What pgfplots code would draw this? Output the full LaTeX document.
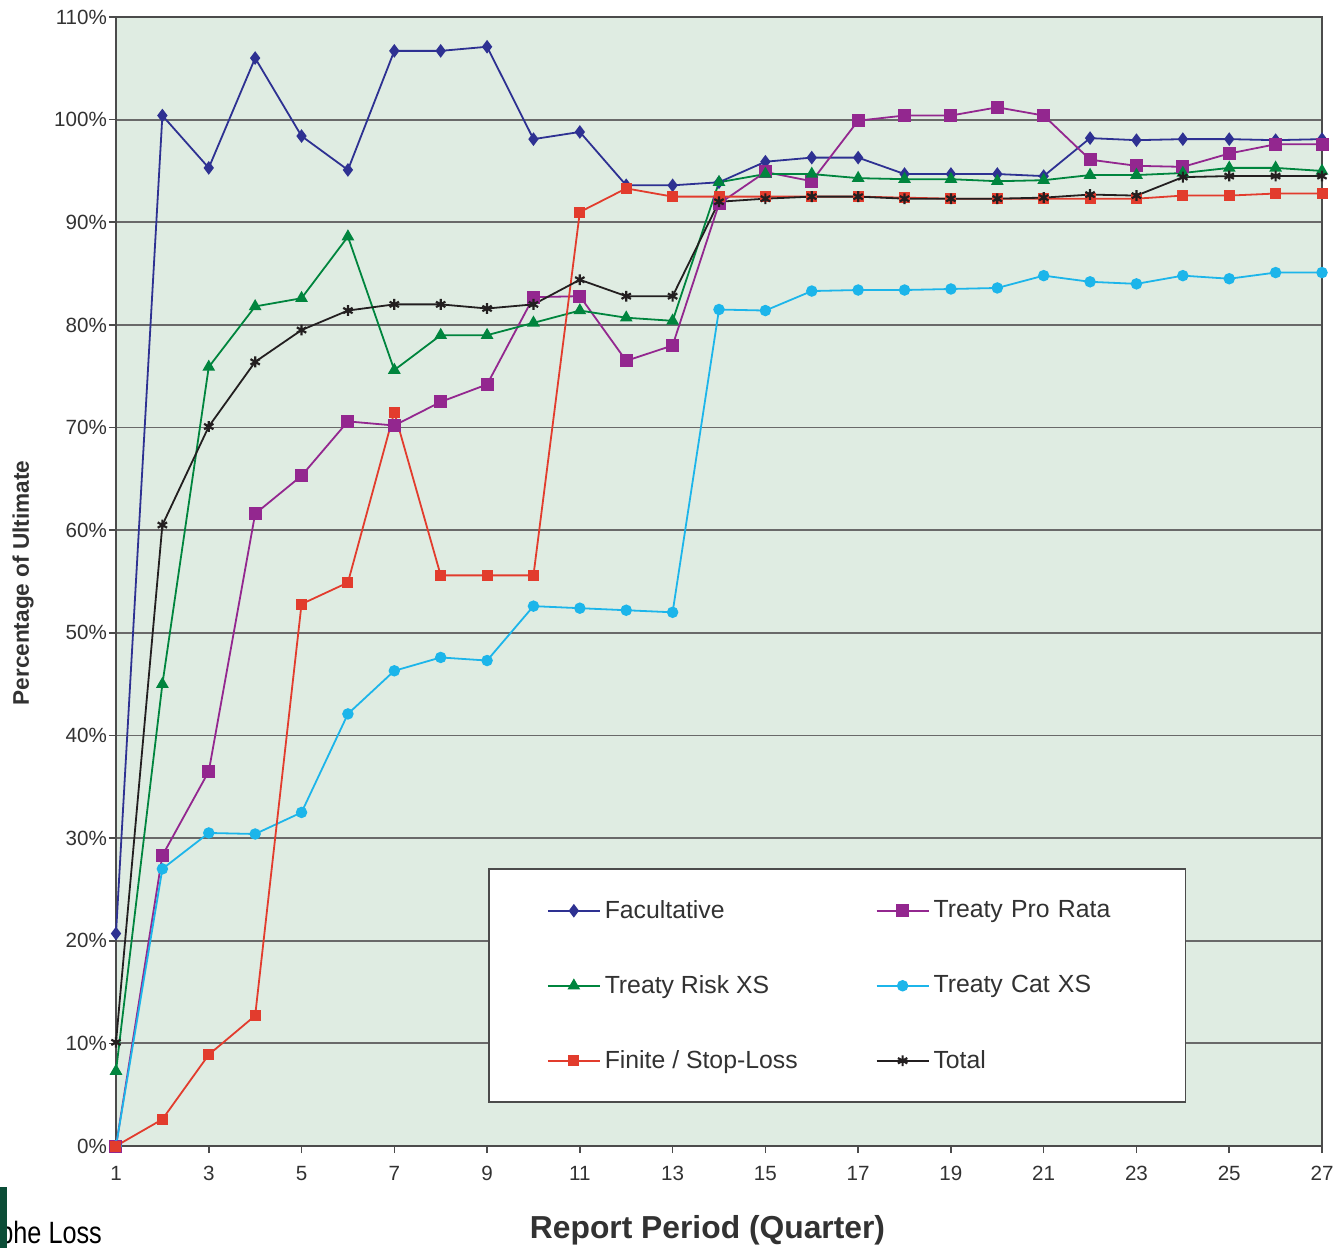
\documentclass[border=0pt]{standalone}
\usepackage{fontspec}
\setmainfont{Liberation Sans}
\newfontfamily\lossfont[FakeStretch=0.82]{Liberation Sans}
\usepackage{pgfplots}
\pgfplotsset{compat=1.18}
\definecolor{bgc}{RGB}{223,236,226}
\definecolor{gridc}{RGB}{105,105,105}
\definecolor{axisc}{RGB}{75,75,75}
\definecolor{tickc}{RGB}{50,50,50}
\definecolor{facc}{RGB}{46,49,146}
\definecolor{proc}{RGB}{147,39,143}
\definecolor{riskc}{RGB}{0,133,62}
\definecolor{catc}{RGB}{28,181,234}
\definecolor{finc}{RGB}{226,60,45}
\definecolor{totc}{RGB}{35,31,32}
\definecolor{barc}{RGB}{11,77,55}
\begin{document}
\begin{tikzpicture}
\useasboundingbox (0,0) rectangle (667.5pt,-624pt);
\begin{axis}[
  at={(58pt,-573pt)}, anchor=south west,
  scale only axis, width=603pt, height=564.5pt,
  xmin=1, xmax=27, ymin=0, ymax=110,
  xtick={1,3,...,27}, ytick={0,10,...,110},
  xtick pos=bottom, ytick pos=left,
  yticklabel={\pgfmathprintnumber{\tick}\%},
  /pgf/number format/assume math mode=true,
  axis background/.style={fill=bgc},
  axis line style={draw=axisc, line width=1.4pt},
  ymajorgrids, grid style={draw=gridc, line width=0.9pt},
  tick align=outside, major tick length=3.5pt,
  tick style={draw=axisc, line width=0.8pt},
  ticklabel style={font=\fontsize{10.3}{12}\selectfont, text=tickc},
  xticklabel style={yshift=-3pt},
  yticklabel style={xshift=2.5pt},
  xlabel={Report Period (Quarter)},
  ylabel={Percentage of Ultimate},
  xlabel style={at={(axis description cs:0.4905,-0.0745)}, anchor=center, font=\bfseries\fontsize{15.9}{18}\selectfont, text=tickc},
  ylabel style={at={(axis description cs:-0.0771,0.4987)}, anchor=center, font=\bfseries\fontsize{11.3}{13}\selectfont, text=tickc},
  clip=false,
  every axis plot/.append style={line width=0.9pt, mark options={solid}},
  legend columns=2,
  legend cell align=left,
  legend image code/.code={\draw[mark repeat=2,mark phase=2,#1] plot coordinates {(0pt,0pt) (13pt,0pt) (26pt,0pt)};},
  legend style={at={(axis description cs:0.3085,0.038)}, anchor=south west,
    fill=white, draw=axisc, line width=0.9pt,
    font=\fontsize{12.4}{14}\selectfont, text=tickc,
    inner xsep=29pt, inner ysep=13.5pt, row sep=23pt,
    /tikz/column 2/.style={column sep=37pt},
    /tikz/column 4/.style={text width=95pt}},
]
\addplot[color=facc, mark=diamond*, mark size=2.7pt] coordinates {
(1,20.7) (2,100.4) (3,95.3) (4,106.0) (5,98.4) (6,95.1) (7,106.7) (8,106.7) (9,107.1)
(10,98.1) (11,98.8) (12,93.6) (13,93.6) (14,93.9) (15,95.9) (16,96.3) (17,96.3) (18,94.7)
(19,94.7) (20,94.7) (21,94.5) (22,98.2) (23,98.0) (24,98.1) (25,98.1) (26,98.0) (27,98.1)};
\addlegendentry{Facultative}
\addplot[color=proc, mark=square*, mark size=2.8pt] coordinates {
(1,0) (2,28.3) (3,36.5) (4,61.6) (5,65.3) (6,70.6) (7,70.2) (8,72.5) (9,74.2)
(10,82.7) (11,82.8) (12,76.5) (13,78.0) (14,91.8) (15,94.9) (16,94.0) (17,99.9) (18,100.4)
(19,100.4) (20,101.2) (21,100.4) (22,96.1) (23,95.5) (24,95.4) (25,96.7) (26,97.6) (27,97.6)};
\addlegendentry{Treaty Pro Rata}
\addplot[color=riskc, mark=triangle*, mark size=2.8pt] coordinates {
(1,7.3) (2,45.0) (3,75.9) (4,81.8) (5,82.6) (6,88.6) (7,75.6) (8,79.0) (9,79.0)
(10,80.2) (11,81.4) (12,80.7) (13,80.4) (14,93.9) (15,94.7) (16,94.7) (17,94.3) (18,94.2)
(19,94.2) (20,94.0) (21,94.1) (22,94.6) (23,94.6) (24,94.8) (25,95.3) (26,95.3) (27,95.0)};
\addlegendentry{Treaty Risk XS}
\addplot[color=catc, mark=*, mark size=2.4pt] coordinates {
(1,0) (2,27.0) (3,30.5) (4,30.4) (5,32.5) (6,42.1) (7,46.3) (8,47.6) (9,47.3)
(10,52.6) (11,52.4) (12,52.2) (13,52.0) (14,81.5) (15,81.4) (16,83.3) (17,83.4) (18,83.4)
(19,83.5) (20,83.6) (21,84.8) (22,84.2) (23,84.0) (24,84.8) (25,84.5) (26,85.1) (27,85.1)};
\addlegendentry{Treaty Cat XS}
\addplot[color=finc, mark=square*, mark size=2.3pt] coordinates {
(1,0) (2,2.6) (3,8.9) (4,12.7) (5,52.8) (6,54.9) (7,71.5) (8,55.6) (9,55.6)
(10,55.6) (11,91.0) (12,93.3) (13,92.5) (14,92.5) (15,92.5) (16,92.5) (17,92.5) (18,92.4)
(19,92.3) (20,92.3) (21,92.3) (22,92.3) (23,92.3) (24,92.6) (25,92.6) (26,92.8) (27,92.8)};
\addlegendentry{Finite / Stop-Loss}
\addplot[color=totc, mark=asterisk, mark size=2.7pt, mark options={line width=1.1pt}] coordinates {
(1,10.1) (2,60.5) (3,70.1) (4,76.4) (5,79.5) (6,81.4) (7,82.0) (8,82.0) (9,81.6)
(10,82.0) (11,84.4) (12,82.8) (13,82.8) (14,92.0) (15,92.3) (16,92.5) (17,92.5) (18,92.3)
(19,92.3) (20,92.3) (21,92.4) (22,92.7) (23,92.6) (24,94.4) (25,94.5) (26,94.5) (27,94.5)};
\addlegendentry{Total}
\end{axis}
\node[anchor=base west, inner sep=0pt, font=\lossfont\fontsize{15.4}{17}\selectfont] at (-0.5pt,-621.5pt) {phe Loss};
\fill[barc] (0pt,-593.5pt) rectangle (3.5pt,-624pt);
\end{tikzpicture}
\end{document}
